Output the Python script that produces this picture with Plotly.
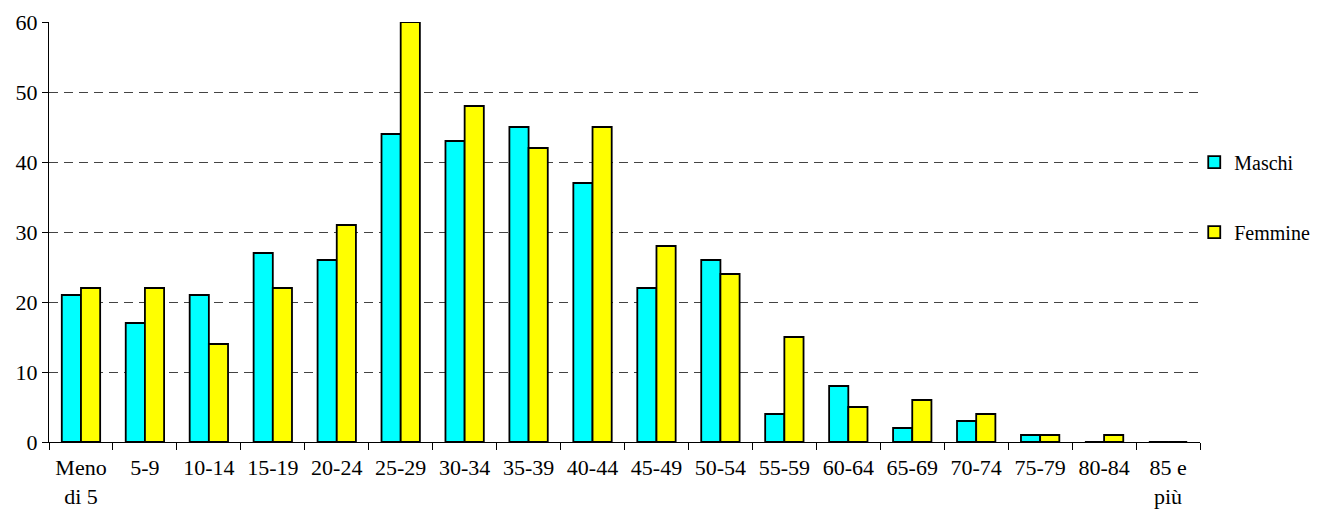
import plotly.graph_objects as go

categories = ["Meno<br>di 5", "5-9", "10-14", "15-19", "20-24", "25-29", "30-34", "35-39",
              "40-44", "45-49", "50-54", "55-59", "60-64", "65-69", "70-74", "75-79",
              "80-84", "85 e<br>più"]
maschi = [21, 17, 21, 27, 26, 44, 43, 45, 37, 22, 26, 4, 8, 2, 3, 1, 0, 0]
femmine = [22, 22, 14, 22, 31, 60, 48, 42, 45, 28, 24, 15, 5, 6, 4, 1, 1, 0]
y_ticks = [0, 10, 20, 30, 40, 50, 60]

FONT = "Liberation Serif"

fig = go.Figure()
fig.add_trace(go.Bar(x=categories, y=maschi, name="Maschi", legendgroup="m",
                     marker=dict(color="#00FFFF", line=dict(color="black", width=1.8))))
fig.add_trace(go.Bar(x=categories, y=femmine, name="Femmine", legendgroup="f",
                     marker=dict(color="#FFFF00", line=dict(color="black", width=1.8))))

# page body has an 8px margin, so plot coordinates are shifted by -8px
fig.update_layout(
    width=1322, height=515,
    margin=dict(l=41, r=130, t=14, b=81, autoexpand=False),
    paper_bgcolor="white", plot_bgcolor="white",
    font=dict(family=FONT, size=22, color="black"),
    barmode="group", bargap=0.4, bargroupgap=0,
    legend=dict(x=0.995, y=0.713, xanchor="left", yanchor="top",
                tracegroupgap=41, font=dict(family=FONT, size=20), bgcolor="rgba(0,0,0,0)"),
    showlegend=True,
)
fig.update_xaxes(type="category", tickson="boundaries", ticks="outside", ticklen=7,
                 tickcolor="black", showline=True, linecolor="black", linewidth=1,
                 showgrid=False, tickfont=dict(family=FONT, size=22), ticklabelstandoff=6)
fig.update_yaxes(range=[0, 60], tickvals=y_ticks, ticks="outside", ticklen=6,
                 tickcolor="black", showline=True, linecolor="black", linewidth=1,
                 showgrid=True, gridcolor="#444444", griddash="9px,6px", gridwidth=1,
                 zeroline=False, tickfont=dict(family=FONT, size=22))

fig.write_html("out.html")
